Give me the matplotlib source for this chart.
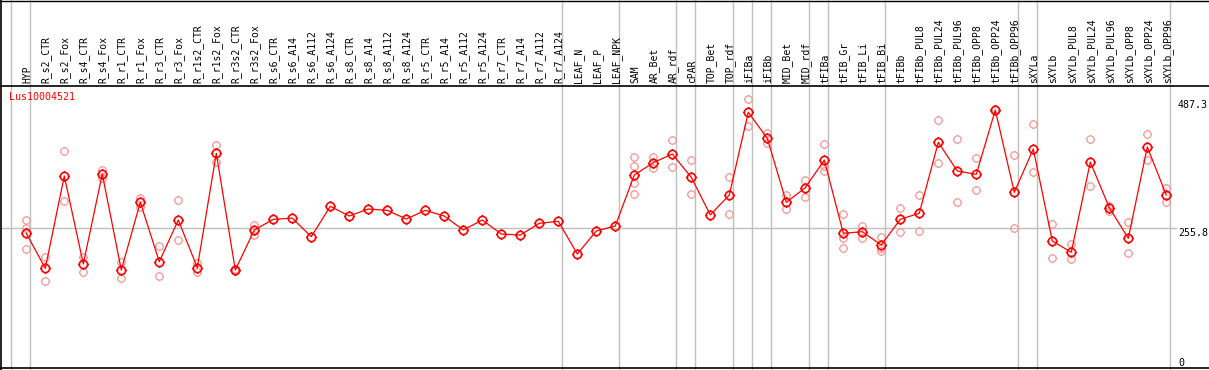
import numpy as np
import matplotlib
matplotlib.use("Agg")
import matplotlib.pyplot as plt
from matplotlib.path import Path

samples = ["HYP", "R_s2_CTR", "R_s2_Fox", "R_s4_CTR", "R_s4_Fox", "R_r1_CTR", "R_r1_Fox",
           "R_r3_CTR", "R_r3_Fox", "R_r1s2_CTR", "R_r1s2_Fox", "R_r3s2_CTR", "R_r3s2_Fox",
           "R_s6_CTR", "R_s6_A14", "R_s6_A112", "R_s6_A124", "R_s8_CTR", "R_s8_A14",
           "R_s8_A112", "R_s8_A124", "R_r5_CTR", "R_r5_A14", "R_r5_A112", "R_r5_A124",
           "R_r7_CTR", "R_r7_A14", "R_r7_A112", "R_r7_A124", "LEAF_N", "LEAF_P", "LEAF_NPK",
           "SAM", "AR_Bet", "AR_rdf", "cPAR", "TOP_Bet", "TOP_rdf", "iFIBa", "iFIBb",
           "MID_Bet", "MID_rdf", "tFIBa", "tFIB_Gr", "tFIB_Li", "tFIB_Bi", "tFIBb",
           "tFIBb_PUL8", "tFIBb_PUL24", "tFIBb_PUL96", "tFIBb_OPP8", "tFIBb_OPP24",
           "tFIBb_OPP96", "sXYLa", "sXYLb", "sXYLb_PUL8", "sXYLb_PUL24", "sXYLb_PUL96",
           "sXYLb_OPP8", "sXYLb_OPP24", "sXYLb_OPP96"]

# how many samples are in each tissue group (grey separators between groups)
group_sizes = [1, 28, 3, 3, 1, 2, 1, 1, 2, 1, 3, 7, 1, 7]

means = [244.7, 175.8, 357.5, 184.3, 361.4, 172.4, 305.7, 188.8, 270.9, 177.0,
         402.2, 172.4, 251.2, 272.2, 274.5, 238.0, 297.8, 278.7, 292.5, 289.9,
         272.8, 289.9, 278.7, 251.2, 270.9, 243.3, 241.3, 264.4, 268.3, 203.9,
         249.2, 259.1, 359.4, 383.7, 400.8, 354.9, 280.9, 320.1, 482.9, 431.7,
         305.7, 334.4, 389.0, 244.7, 247.8, 221.7, 272.2, 284.1, 423.8, 367.3,
         360.8, 487.3, 325.4, 410.6, 229.5, 207.3, 385.0, 295.1, 234.8, 414.6,
         320.1]

replicates = [
    [271, 256, 214], [199, 151], [407, 308], [199, 169], [369, 353],
    [188, 156], [314, 297], [220, 161], [310, 232], [187, 169],
    [419, 386], [175, 170], [261, 241],
    [], [], [], [], [], [], [], [], [], [], [], [], [], [], [], [], [], [], [],
    [394, 378, 343, 322], [394, 373], [428, 375], [389, 322], [], [355, 282],
    [510, 456], [442, 422], [320, 292], [350, 316], [420, 378, 368],
    [282, 235, 215], [260, 235], [237, 215, 210], [294, 248], [320, 250],
    [467, 383], [430, 306], [392, 329], [489], [398, 255], [459, 365],
    [263, 196], [224, 194], [430, 337], [298, 289], [266, 206], [440, 388],
    [333, 306],
]

gene = "Lus10004521"
ref_line = 255.8
tick_vals = [487.3, 255.8, 0]

# circle marker with four little ticks around it
circ = Path.unit_circle()
ticks = []
for ang in [0, np.pi / 2, np.pi, 3 * np.pi / 2]:
    c, s = np.cos(ang), np.sin(ang)
    ticks.append(Path([(c, s), (1.25 * c, 1.25 * s)], [Path.MOVETO, Path.LINETO]))
mark = Path.make_compound_path(circ, *ticks)

fig = plt.figure(figsize=(12.09, 3.70), dpi=100)
ax = fig.add_axes([0, 0, 1, 1])

# pixel mapping: column i at x = 26.3 + 19 i, value v at y = 357.6 - 0.508 v (from top)
def px_x(p):
    return (p - 26.3) / 19.0

def px_y(p):
    return (357.6 - p) / 0.508

ax.set_xlim(px_x(0), px_x(1209))
ax.set_ylim(px_y(370), px_y(0))
ax.axis("off")

x = np.arange(len(samples))

# frame
ax.axvline(px_x(1.0), color="black", lw=1.2)
ax.axhline(px_y(0.5), color="black", lw=1.0)
ax.axhline(px_y(85.7), color="black", lw=1.2)
ax.axhline(px_y(368.3), color="black", lw=1.2)

# group separators
bounds = np.concatenate([[-1], np.cumsum(group_sizes) - 1]) + 0.2
for b in bounds:
    ax.axvline(b, color="#c0c0c0", lw=1.0, zorder=1)

ax.plot([px_x(1), px_x(1176)], [ref_line, ref_line], color="#c0c0c0", lw=1.0, zorder=1)

for i, reps in enumerate(replicates):
    if reps:
        ax.plot([x[i]] * len(reps), reps, linestyle="none", marker=mark, markersize=6.6,
                markerfacecolor="none", markeredgecolor="#f09a9a", markeredgewidth=0.9, zorder=2)

ax.plot(x, means, color="red", lw=0.9, zorder=3)
ax.plot(x, means, linestyle="none", marker=mark, markersize=7.4, markerfacecolor="none",
        markeredgecolor="red", markeredgewidth=1.2, zorder=4)

for i, name in enumerate(samples):
    ax.text(x[i] + 0.05, px_y(83), name, rotation=90, ha="center", va="bottom",
            fontsize=7, family="DejaVu Sans Mono")

ax.text(px_x(9), px_y(96.7), gene, color="red", fontsize=7.2, family="DejaVu Sans Mono",
        va="center", ha="left")

for v, va in zip(tick_vals, ["bottom", "top", "top"]):
    ax.text(px_x(1178), v, f"{v:g}" if v == 0 else f"{v:.1f}", fontsize=7.2,
            family="DejaVu Sans Mono", va=va, ha="left")

fig.savefig("out.png", dpi=100)
